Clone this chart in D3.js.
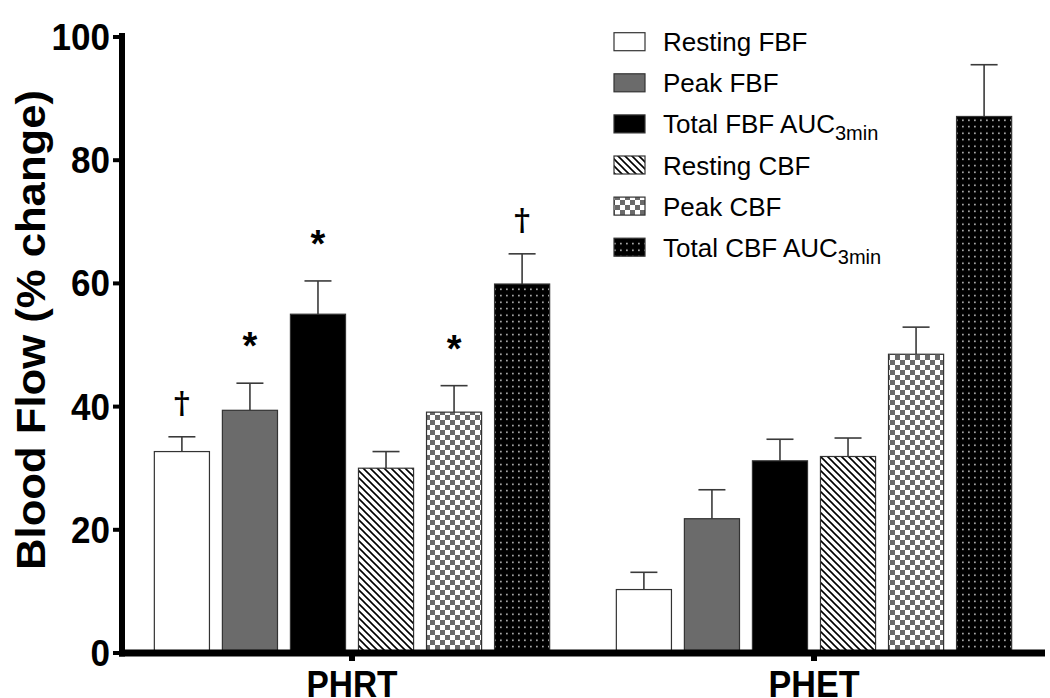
<!DOCTYPE html>
<html><head><meta charset="utf-8">
<script src="https://cdn.jsdelivr.net/npm/d3@7"></script>
<style>body{margin:0;background:#fff}svg{display:block}</style>
</head><body>
<svg id="c" width="1050" height="698"></svg>
<script>
const groups = ["PHRT", "PHET"];
const seriesNames = ["Resting FBF", "Peak FBF", "Total FBF AUC", "Resting CBF", "Peak CBF", "Total CBF AUC"];
const seriesSub = ["", "", "3min", "", "", "3min"];
const seriesFill = ["white", "gray", "black", "hatch", "check", "dots"];
const phrtMean = [32.7, 39.4, 55.0, 30.0, 39.1, 59.9];
const phrtErr  = [2.4, 4.4, 5.4, 2.7, 4.3, 4.9];
const phetMean = [10.3, 21.8, 31.2, 31.9, 48.5, 87.1];
const phetErr  = [2.8, 4.7, 3.5, 3.0, 4.4, 8.4];
const phrtMarks = ["†", "*", "*", "", "*", "†"];
const phetMarks = ["", "", "", "", "", ""];
const yTicks = [0, 20, 40, 60, 80, 100];

const svg = d3.select("#c");
const defs = svg.append("defs");
// hatch
const ph = defs.append("pattern").attr("id","hatch").attr("patternUnits","userSpaceOnUse")
  .attr("width",7).attr("height",7);
ph.append("rect").attr("width",7).attr("height",7).attr("fill","#fff");
ph.append("path").attr("d","M-1,-1 L8,8 M-1,6 L1,8 M6,-1 L8,1").attr("stroke","#000").attr("stroke-width",1.6);
// checker
const pc = defs.append("pattern").attr("id","check").attr("patternUnits","userSpaceOnUse")
  .attr("width",10).attr("height",10);
pc.append("rect").attr("width",10).attr("height",10).attr("fill","#fff");
pc.append("rect").attr("width",5).attr("height",5).attr("fill","#6a6a6a");
pc.append("rect").attr("x",5).attr("y",5).attr("width",5).attr("height",5).attr("fill","#6a6a6a");
// dots
const pd = defs.append("pattern").attr("id","dots").attr("patternUnits","userSpaceOnUse")
  .attr("width",6).attr("height",6.5);
pd.append("rect").attr("width",6).attr("height",6.5).attr("fill","#000");
pd.append("rect").attr("x",2.2).attr("y",2.5).attr("width",1.4).attr("height",1.4).attr("fill","#fff");

const fillOf = f => f==="white" ? "#fff" : f==="gray" ? "#6b6b6b" : f==="black" ? "#000" : `url(#${f})`;

const y = d3.scaleLinear().domain([0,100]).range([653, 37]);
const x0 = d3.scaleBand().domain(groups).range([121, 1045]).padding(0);
const x1 = d3.scaleBand().domain(d3.range(seriesNames.length)).range([0, x0.bandwidth()])
  .paddingInner(0.19).paddingOuter(0.49);

const data = [];
groups.forEach((g, gi) => {
  const m = gi===0 ? phrtMean : phetMean, e = gi===0 ? phrtErr : phetErr, mk = gi===0 ? phrtMarks : phetMarks;
  m.forEach((v, i) => data.push({g, i, v, e: e[i], mark: mk[i]}));
});

const bx = d => x0(d.g) + x1(d.i);
// error bars
const eb = svg.append("g").attr("stroke","#3a3a3a").attr("stroke-width",1.6);
data.forEach(d => {
  const cx = bx(d) + x1.bandwidth()/2;
  eb.append("line").attr("x1",cx).attr("x2",cx).attr("y1",y(d.v)).attr("y2",y(d.v+d.e));
  eb.append("line").attr("x1",cx-13.5).attr("x2",cx+13.5).attr("y1",y(d.v+d.e)).attr("y2",y(d.v+d.e));
});
// bars
svg.append("g").selectAll("rect").data(data).join("rect")
  .attr("x", bx).attr("width", x1.bandwidth())
  .attr("y", d => y(d.v)).attr("height", d => y(0) - y(d.v))
  .attr("fill", d => fillOf(seriesFill[d.i]))
  .attr("stroke", "#333").attr("stroke-width", 1.2);
// marks
svg.append("g").selectAll("text").data(data.filter(d => d.mark)).join("text")
  .attr("x", d => bx(d) + x1.bandwidth()/2)
  .attr("y", d => y(d.v+d.e) - (d.mark==="*" ? 24 : 24))
  .attr("text-anchor","middle")
  .attr("font-family", d => d.mark==="*" ? "Liberation Sans, Arial, sans-serif" : "DejaVu Serif, serif")
  .attr("font-weight", "bold")
  .attr("font-size", d => d.mark==="*" ? 38 : 30)
  .text(d => d.mark);

// y axis
const ya = svg.append("g");
ya.append("line").attr("x1",122).attr("x2",122).attr("y1",y(100)-4).attr("y2",656.5).attr("stroke","#000").attr("stroke-width",6);
ya.selectAll("line.t").data(yTicks).join("line").attr("class","t")
  .attr("x1",113).attr("x2",122).attr("y1",d=>y(d)).attr("y2",d=>y(d)).attr("stroke","#000").attr("stroke-width",4);
ya.selectAll("text").data(yTicks).join("text")
  .attr("x",110).attr("y",d=>y(d)+13).attr("text-anchor","end")
  .attr("font-family","Liberation Sans, Arial, sans-serif").attr("font-weight","bold").attr("font-size",37)
  .attr("textLength",d=>String(d).length*19.5).attr("lengthAdjust","spacingAndGlyphs")
  .text(d=>d);
// x axis
const xa = svg.append("g");
xa.append("line").attr("x1",119).attr("x2",1045).attr("y1",653).attr("y2",653).attr("stroke","#000").attr("stroke-width",7);
xa.selectAll("rect").data(groups).join("rect")
  .attr("x",d=>x0(d)+x0.bandwidth()/2-3).attr("y",656).attr("width",6).attr("height",5).attr("fill","#000");
xa.selectAll("text").data(groups).join("text")
  .attr("x",d=>x0(d)+x0.bandwidth()/2).attr("y",697).attr("text-anchor","middle")
  .attr("font-family","Liberation Sans, Arial, sans-serif").attr("font-weight","bold").attr("font-size",36)
  .attr("textLength",91).attr("lengthAdjust","spacingAndGlyphs")
  .text(d=>d);
// y title
svg.append("text").attr("transform","translate(45,330) rotate(-90)").attr("text-anchor","middle")
  .attr("font-family","Liberation Sans, Arial, sans-serif").attr("font-weight","bold").attr("font-size",40)
  .attr("textLength",480).attr("lengthAdjust","spacingAndGlyphs")
  .text("Blood Flow (% change)");

// legend
const lg = svg.append("g");
seriesNames.forEach((n, i) => {
  const cy = 41.7 + i*41.1;
  lg.append("rect").attr("x",614).attr("y",cy-9).attr("width",31).attr("height",18)
    .attr("fill", fillOf(seriesFill[i])).attr("stroke","#333").attr("stroke-width",1.2);
  const t = lg.append("text").attr("x",663).attr("y",cy+9.5)
    .attr("font-family","Liberation Sans, Arial, sans-serif").attr("font-size",26).text(n);
  if (seriesSub[i]) t.append("tspan").attr("font-size",20).attr("dy",7).text(seriesSub[i]);
});
</script>
</body></html>
